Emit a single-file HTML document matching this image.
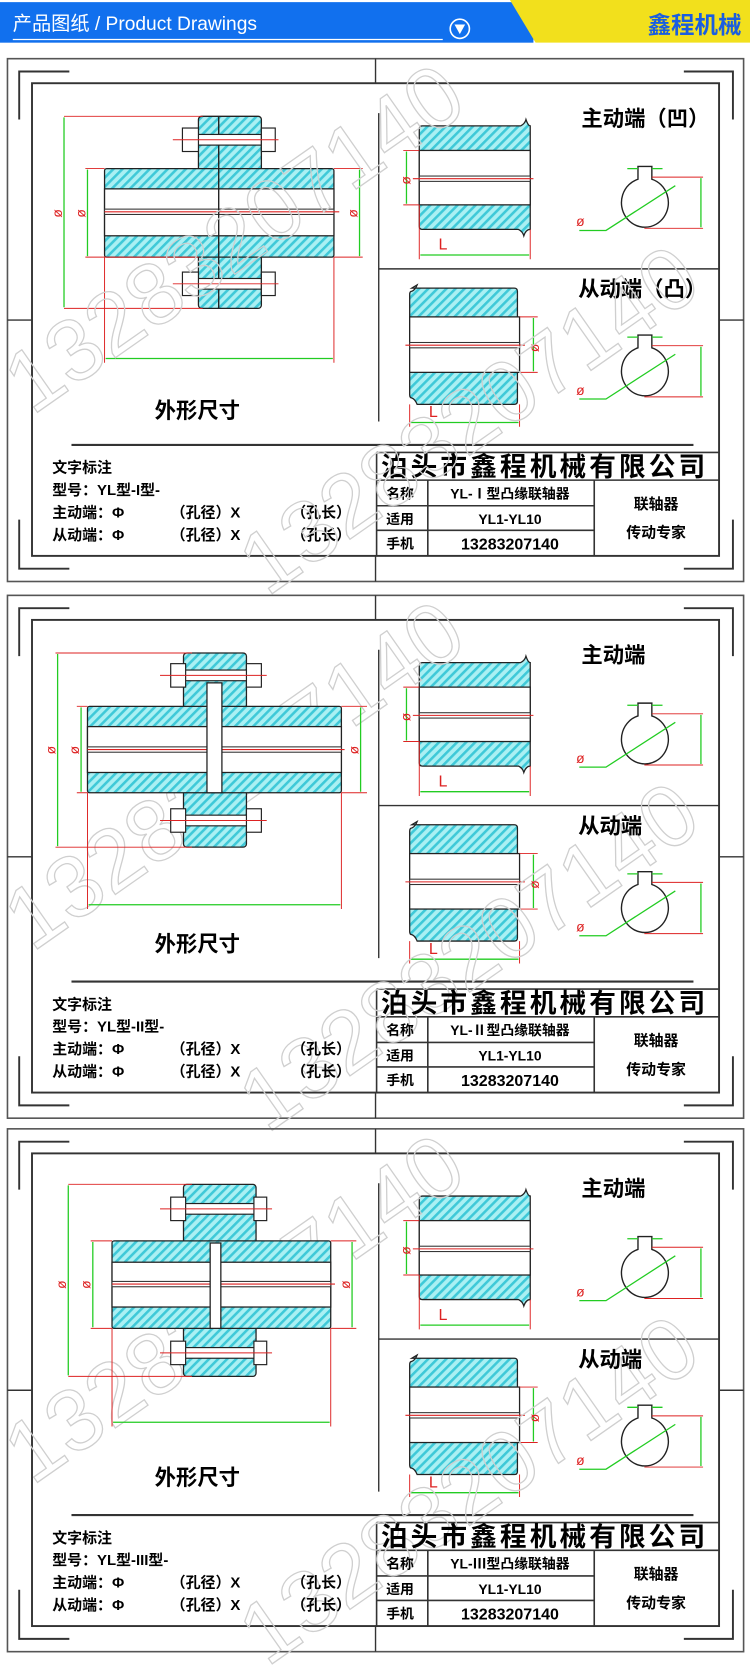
<!DOCTYPE html>
<html><head><meta charset="utf-8"><style>
html,body{margin:0;padding:0;background:#fff;}
svg{display:block;}
text{font-family:"Liberation Sans","Noto Sans CJK SC",sans-serif;}
.b{font-weight:bold;}
</style></head><body>
<svg width="750" height="1673" viewBox="0 0 703 1568" preserveAspectRatio="none" xmlns="http://www.w3.org/2000/svg">
<defs>
<pattern id="h" width="6" height="6" patternUnits="userSpaceOnUse" patternTransform="rotate(45)"><rect width="6" height="6" fill="#aaf0f3"/><rect width="2.4" height="6" fill="#3fc9d8"/></pattern>
<g id="frame" fill="none" stroke="#333">
<rect x="7" y="55" width="690" height="490" stroke-width="1.5" stroke="#555"/>
<rect x="30" y="78" width="644" height="443" stroke-width="1.8"/>
<path d="M18,112V67H65M641,67H687V112M18,487V533H65M641,533H687V487" stroke-width="1.8"/>
<path d="M352,55V78M352,521V545M7,300H30M674,300H697" stroke-width="1.3"/>
<path d="M355,106V395M355,252H674" stroke-width="1.3"/>
<path d="M67,417H650" stroke-width="2"/>
<path d="M353,424H674M353,450H674M353,474H557M353,497H557M353,424V521M401,450V521M557,450V521" stroke-width="1.5"/>
</g>
<g id="right">
<path d="M396,118H488q4,-2 5,-6 q2,6 4,6V215q-4,0 -6,6 q-1,-4 -5,-6H396q-3,0 -3,-3V121q0,-3 3,-3Z" fill="url(#h)" stroke="#222" stroke-width="1.2"/>
<rect x="393" y="141" width="104" height="51" fill="#fff" stroke="#222" stroke-width="1.2"/>
<rect x="393" y="165" width="104" height="5" fill="#fff" stroke="#333" stroke-width="1"/>
<path d="M387,167.5H500" stroke="#d22" stroke-width="1"/>
<path d="M378,141H393M378,192H393M393,192V243M497,215V243" stroke="#d22" stroke-width="0.9"/>
<path d="M381,142V191M394,239H496" stroke="#2c2" stroke-width="1.2"/>
<path d="M386,270H482q3,0 3,3V376q0,3 -3,3H391q-2,-5 -5,-6 q-2,0 -2,-3V276q0,-3 2,-3 q3,-1 5,-6 Z" fill="url(#h)" stroke="#222" stroke-width="1.2"/>
<rect x="384" y="297" width="103" height="52" fill="#fff" stroke="#222" stroke-width="1.2"/>
<rect x="384" y="321" width="103" height="5" fill="#fff" stroke="#333" stroke-width="1"/>
<path d="M380,323.5H492" stroke="#d22" stroke-width="1"/>
<path d="M487,297H504M487,349H504M384,379V400M487,379V400" stroke="#d22" stroke-width="0.9"/>
<path d="M500,298V348M385,396H486" stroke="#2c2" stroke-width="1.2"/>
<g id="key">
<path d="M598,168 A22,23 0 1 0 611,168 V156 H598 Z" fill="#fff" stroke="#222" stroke-width="1.3"/>
<path d="M611,166H659M604,214H659" stroke="#d22" stroke-width="0.9"/>
<path d="M657,167V213M588,158H598M611,158H621M543,216H568L633,174" stroke="#2c2" stroke-width="1.2" fill="none"/>
</g>
<use href="#key" transform="translate(0,158)"/>
</g>
<g id="wm" fill="none" stroke="#cfcfcf" stroke-width="1.2" font-size="82" font-family="Liberation Sans,sans-serif">
<text x="0" y="0" transform="translate(30,390) rotate(-35)">13283207140</text>
<text x="0" y="0" transform="translate(250,560) rotate(-35)">13283207140</text>
</g>
</defs>

<!-- header -->
<rect x="0" y="2" width="500" height="38" fill="#1170ee"/>
<path d="M478,0H703V40H502Z" fill="#f2e01c"/>
<text x="12" y="28" fill="#fff" font-size="18">产品图纸 / Product Drawings</text>
<path d="M12,37H415" stroke="#fff" stroke-width="1.2"/>
<circle cx="431" cy="27" r="9" fill="none" stroke="#fff" stroke-width="1.5"/>
<path d="M426,23H436L431,32Z" fill="#fff"/>
<text x="695" y="31" text-anchor="end" fill="#1a5ee0" font-size="22" class="b">鑫程机械</text>

<!-- PANEL 1 -->
<g>
<use href="#frame"/><use href="#right"/>
<!-- main -->
<rect x="186" y="109" width="59" height="180" rx="3" fill="url(#h)" stroke="#222" stroke-width="1.2"/>
<rect x="98" y="158" width="215" height="83" rx="2" fill="url(#h)" stroke="#222" stroke-width="1.2"/>
<rect x="98" y="177" width="215" height="44" fill="#fff" stroke="#222" stroke-width="1.2"/>
<rect x="98" y="196" width="215" height="5" fill="#fff" stroke="#333"/>
<path d="M98,198.5H318" stroke="#d22"/>
<path d="M205,109V289" stroke="#222" stroke-width="1.3"/>
<g stroke="#222" stroke-width="1.1"><rect x="186" y="126" width="59" height="10" fill="#fff"/><rect x="171" y="120" width="15" height="22" fill="#fff"/><rect x="245" y="120" width="13" height="22" fill="#fff"/>
<rect x="186" y="261" width="59" height="10" fill="#fff"/><rect x="171" y="255" width="15" height="22" fill="#fff"/><rect x="245" y="255" width="13" height="22" fill="#fff"/></g>
<path d="M162,131H261M162,266H261M60,109H190M60,289H190M80,158H98M80,241H186M313,158H340M313,241H340M98,241V340M313,241V340" stroke="#d22" stroke-width="0.9"/>
<path d="M60,110V288M82,159V240M337,159V240M99,336H312" stroke="#2c2" stroke-width="1.2"/>
<g fill="#d22" font-size="13"><text transform="translate(58,204) rotate(-90)">ø</text><text transform="translate(80,204) rotate(-90)">ø</text><text transform="translate(335,204) rotate(-90)">ø</text><text x="540" y="212">ø</text><text x="540" y="370">ø</text><text transform="translate(385,173) rotate(-90)">ø</text><text transform="translate(505,330) rotate(-90)">ø</text></g>
<text x="411" y="234" fill="#d22" font-size="15">L</text><text x="402" y="391" fill="#d22" font-size="15">L</text>
<text x="145" y="392" font-size="20" class="b">外形尺寸</text>
<text x="545" y="118" font-size="20" class="b">主动端（凹）</text>
<text x="542" y="278" font-size="20" class="b">从动端（凸）</text>
<g font-size="14" class="b"><text x="49" y="443">文字标注</text><text x="49" y="464">型号：YL型-I型-</text><text x="49" y="485">主动端：Φ</text><text x="160" y="485">（孔径）X</text><text x="273" y="485">（孔长）</text><text x="49" y="506">从动端：Φ</text><text x="160" y="506">（孔径）X</text><text x="273" y="506">（孔长）</text></g>
<text x="357" y="446" font-size="25" class="b" textLength="304">泊头市鑫程机械有限公司</text>
<g font-size="13" class="b"><text x="362" y="467">名称</text><text x="362" y="491">适用</text><text x="362" y="514">手机</text><text x="478" y="467" text-anchor="middle">YL-Ⅰ型凸缘联轴器</text><text x="478" y="491" text-anchor="middle">YL1-YL10</text><text x="478" y="515" text-anchor="middle" font-size="15">13283207140</text><text x="615" y="477" text-anchor="middle" font-size="14">联轴器</text><text x="615" y="504" text-anchor="middle" font-size="14">传动专家</text></g>
<use href="#wm"/>
</g>

<!-- PANEL 2 -->
<g transform="translate(0,503)"><use href="#frame"/><use href="#right"/><use href="#wm"/>
<text x="545" y="118" font-size="20" class="b">主动端</text>
<text x="542" y="278" font-size="20" class="b">从动端</text>
<g fill="#d22" font-size="13"><text x="540" y="212">ø</text><text x="540" y="370">ø</text><text transform="translate(385,173) rotate(-90)">ø</text><text transform="translate(505,330) rotate(-90)">ø</text></g>
<text x="411" y="234" fill="#d22" font-size="15">L</text><text x="402" y="391" fill="#d22" font-size="15">L</text>
<text x="145" y="389" font-size="20" class="b">外形尺寸</text>
<g font-size="14" class="b"><text x="49" y="443">文字标注</text><text x="49" y="464">型号：YL型-II型-</text><text x="49" y="485">主动端：Φ</text><text x="160" y="485">（孔径）X</text><text x="273" y="485">（孔长）</text><text x="49" y="506">从动端：Φ</text><text x="160" y="506">（孔径）X</text><text x="273" y="506">（孔长）</text></g>
<text x="357" y="446" font-size="25" class="b" textLength="304">泊头市鑫程机械有限公司</text>
<g font-size="13" class="b"><text x="362" y="467">名称</text><text x="362" y="491">适用</text><text x="362" y="514">手机</text><text x="478" y="467" text-anchor="middle">YL-Ⅱ型凸缘联轴器</text><text x="478" y="491" text-anchor="middle">YL1-YL10</text><text x="478" y="515" text-anchor="middle" font-size="15">13283207140</text><text x="615" y="477" text-anchor="middle" font-size="14">联轴器</text><text x="615" y="504" text-anchor="middle" font-size="14">传动专家</text></g>
</g>
<g>
<rect x="172" y="612" width="59" height="182" rx="3" fill="url(#h)" stroke="#222" stroke-width="1.2"/>
<rect x="82" y="662" width="238" height="81" rx="2" fill="url(#h)" stroke="#222" stroke-width="1.2"/>
<rect x="82" y="681" width="238" height="43" fill="#fff" stroke="#222" stroke-width="1.2"/>
<rect x="82" y="700" width="238" height="5" fill="#fff" stroke="#333"/>
<path d="M82,702.5H323" stroke="#d22"/>
<rect x="194" y="640" width="14" height="103" fill="#fff" stroke="#222" stroke-width="1.2"/>
<g stroke="#222" stroke-width="1.1"><rect x="172" y="628" width="72" height="10" fill="#fff"/><rect x="160" y="622" width="14" height="22" fill="#fff"/><rect x="231" y="622" width="14" height="22" fill="#fff"/>
<rect x="172" y="764" width="72" height="10" fill="#fff"/><rect x="160" y="758" width="14" height="22" fill="#fff"/><rect x="231" y="758" width="14" height="22" fill="#fff"/></g>
<path d="M150,633H250M150,769H250M52,612H180M52,794H180M72,662H82M72,743H82M320,662H344M320,743H344M82,743V852M320,743V852" stroke="#d22" stroke-width="0.9"/>
<path d="M54,613V793M76,663V742M338,663V742M83,848H319" stroke="#2c2" stroke-width="1.2"/>
<g fill="#d22" font-size="13"><text transform="translate(52,707) rotate(-90)">ø</text><text transform="translate(74,707) rotate(-90)">ø</text><text transform="translate(336,707) rotate(-90)">ø</text></g>
</g>

<!-- PANEL 3 -->
<g transform="translate(0,1003)"><use href="#frame"/><use href="#right"/><use href="#wm"/>
<text x="545" y="118" font-size="20" class="b">主动端</text>
<text x="542" y="278" font-size="20" class="b">从动端</text>
<g fill="#d22" font-size="13"><text x="540" y="212">ø</text><text x="540" y="370">ø</text><text transform="translate(385,173) rotate(-90)">ø</text><text transform="translate(505,330) rotate(-90)">ø</text></g>
<text x="411" y="234" fill="#d22" font-size="15">L</text><text x="402" y="391" fill="#d22" font-size="15">L</text>
<text x="145" y="389" font-size="20" class="b">外形尺寸</text>
<g font-size="14" class="b"><text x="49" y="443">文字标注</text><text x="49" y="464">型号：YL型-III型-</text><text x="49" y="485">主动端：Φ</text><text x="160" y="485">（孔径）X</text><text x="273" y="485">（孔长）</text><text x="49" y="506">从动端：Φ</text><text x="160" y="506">（孔径）X</text><text x="273" y="506">（孔长）</text></g>
<text x="357" y="446" font-size="25" class="b" textLength="304">泊头市鑫程机械有限公司</text>
<g font-size="13" class="b"><text x="362" y="467">名称</text><text x="362" y="491">适用</text><text x="362" y="514">手机</text><text x="478" y="467" text-anchor="middle">YL-Ⅲ型凸缘联轴器</text><text x="478" y="491" text-anchor="middle">YL1-YL10</text><text x="478" y="515" text-anchor="middle" font-size="15">13283207140</text><text x="615" y="477" text-anchor="middle" font-size="14">联轴器</text><text x="615" y="504" text-anchor="middle" font-size="14">传动专家</text></g>
</g>
<g>
<rect x="172" y="1110" width="68" height="180" rx="3" fill="url(#h)" stroke="#222" stroke-width="1.2"/>
<rect x="105" y="1163" width="205" height="82" rx="2" fill="url(#h)" stroke="#222" stroke-width="1.2"/>
<rect x="105" y="1183" width="205" height="42" fill="#fff" stroke="#222" stroke-width="1.2"/>
<rect x="105" y="1201" width="205" height="5" fill="#fff" stroke="#333"/>
<path d="M105,1203.5H314" stroke="#d22"/>
<rect x="197" y="1165" width="10" height="80" fill="#fff" stroke="#222" stroke-width="1.2"/>
<g stroke="#222" stroke-width="1.1"><rect x="172" y="1128" width="68" height="10" fill="#fff"/><rect x="160" y="1122" width="14" height="22" fill="#fff"/><rect x="238" y="1122" width="12" height="22" fill="#fff"/>
<rect x="172" y="1263" width="68" height="10" fill="#fff"/><rect x="160" y="1257" width="14" height="22" fill="#fff"/><rect x="238" y="1257" width="12" height="22" fill="#fff"/></g>
<path d="M150,1133H255M150,1268H255M64,1110H180M64,1290H180M85,1163H105M85,1245H105M310,1163H334M310,1245H334M105,1245V1337M310,1245V1337" stroke="#d22" stroke-width="0.9"/>
<path d="M64,1111V1289M87,1164V1244M330,1164V1244M106,1333H309" stroke="#2c2" stroke-width="1.2"/>
<g fill="#d22" font-size="13"><text transform="translate(62,1208) rotate(-90)">ø</text><text transform="translate(85,1208) rotate(-90)">ø</text><text transform="translate(328,1208) rotate(-90)">ø</text></g>
</g>
</svg>
</body></html>
